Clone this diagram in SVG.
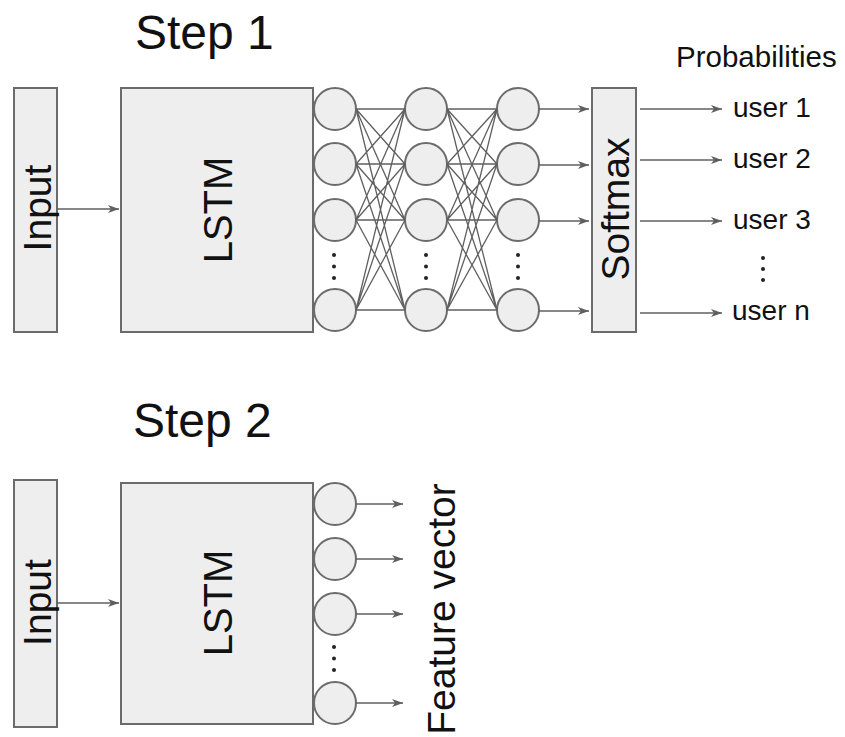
<svg xmlns="http://www.w3.org/2000/svg" width="845" height="737" viewBox="0 0 845 737">
<defs>
<style>
.box{fill:#eeeeee;stroke:#6b6b6b;stroke-width:2}
.nd{fill:#eeeeee;stroke:#6b6b6b;stroke-width:2}
.ln{stroke:#5f5f5f;stroke-width:1.3;fill:none}
.ar{stroke:#5f5f5f;stroke-width:1.6;fill:none;marker-end:url(#ah)}
.t{font-family:"Liberation Sans",Arial,sans-serif;fill:#111}
.dot{fill:#222}
</style>
<marker id="ah" markerUnits="userSpaceOnUse" markerWidth="12" markerHeight="10" viewBox="0 0 12 10" refX="11" refY="5" orient="auto">
<path d="M0,1 L11,5 L0,9 L3,5 Z" fill="#5f5f5f"/>
</marker>
</defs>
<rect width="845" height="737" fill="#ffffff"/>

<text class="t" x="135" y="49" font-size="48">Step 1</text>
<text class="t" x="133" y="437" font-size="48">Step 2</text>

<!-- Step 1 -->
<g id="input1">
<rect class="box" x="14" y="88" width="43" height="244"/>
<text class="t" font-size="39" text-anchor="middle" transform="translate(50.5,208) rotate(-90)">Input</text>
</g>
<g id="lstm1">
<rect class="box" x="121" y="88" width="192" height="244"/>
<text class="t" font-size="40" text-anchor="middle" transform="translate(232,210) rotate(-90)">LSTM</text>
</g>
<g id="layer1">
<circle class="nd" cx="335" cy="109" r="21"/>
<circle class="nd" cx="335" cy="164" r="21"/>
<circle class="nd" cx="335" cy="220" r="21"/>
<circle class="nd" cx="335" cy="310" r="21"/>
<circle class="dot" cx="334" cy="255" r="2"/>
<circle class="dot" cx="334" cy="266.5" r="2"/>
<circle class="dot" cx="334" cy="278" r="2"/>
</g>
<g id="layer2">
<circle class="nd" cx="426" cy="109" r="21"/>
<circle class="nd" cx="426" cy="164" r="21"/>
<circle class="nd" cx="426" cy="220" r="21"/>
<circle class="nd" cx="426" cy="310" r="21"/>
<circle class="dot" cx="426" cy="255" r="2"/>
<circle class="dot" cx="426" cy="266.5" r="2"/>
<circle class="dot" cx="426" cy="278" r="2"/>
</g>
<g id="layer3">
<circle class="nd" cx="518" cy="109" r="21"/>
<circle class="nd" cx="518" cy="164" r="21"/>
<circle class="nd" cx="518" cy="220" r="21"/>
<circle class="nd" cx="518" cy="310" r="21"/>
<circle class="dot" cx="518" cy="255" r="2"/>
<circle class="dot" cx="518" cy="266.5" r="2"/>
<circle class="dot" cx="518" cy="278" r="2"/>
</g>
<g id="softmax">
<rect class="box" x="592" y="88" width="44" height="244"/>
<text class="t" font-size="39" text-anchor="middle" transform="translate(629,209) rotate(-90)">Softmax</text>
</g>
<g id="outputs">
<text class="t" x="676" y="67" font-size="29.5">Probabilities</text>
<text class="t" x="733" y="117" font-size="28">user 1</text>
<text class="t" x="733" y="168" font-size="28">user 2</text>
<text class="t" x="733" y="229" font-size="28">user 3</text>
<text class="t" x="732" y="320" font-size="28">user n</text>
<circle class="dot" cx="763" cy="258" r="2"/>
<circle class="dot" cx="763" cy="269" r="2"/>
<circle class="dot" cx="763" cy="280" r="2"/>
</g>

<!-- Step 2 -->
<g id="input2">
<rect class="box" x="14" y="480" width="43" height="247"/>
<text class="t" font-size="39" text-anchor="middle" transform="translate(50.5,602.5) rotate(-90)">Input</text>
</g>
<g id="lstm2">
<rect class="box" x="121" y="483" width="192" height="241"/>
<text class="t" font-size="40" text-anchor="middle" transform="translate(232,603) rotate(-90)">LSTM</text>
</g>
<g id="features">
<circle class="nd" cx="335" cy="504" r="21"/>
<circle class="nd" cx="335" cy="559" r="21"/>
<circle class="nd" cx="335" cy="614" r="21"/>
<circle class="nd" cx="335" cy="703" r="21"/>
<circle class="dot" cx="334" cy="647" r="2"/>
<circle class="dot" cx="334" cy="658.5" r="2"/>
<circle class="dot" cx="334" cy="670" r="2"/>
<text class="t" font-size="39" text-anchor="middle" transform="translate(455,609) rotate(-90)">Feature vector</text>
</g>

<g id="connectors">
<line class="ar" x1="57" y1="209" x2="119" y2="209"/>
<line class="ar" x1="57" y1="603" x2="119" y2="603"/>
<!-- layer1 -> layer2 -->
<path class="ln" d="M356,109 L405,109 M356,109 L405,164 M356,109 L405,220 M356,109 L405,310
M356,164 L405,109 M356,164 L405,164 M356,164 L405,220 M356,164 L405,310
M356,220 L405,109 M356,220 L405,164 M356,220 L405,220 M356,220 L405,310
M356,310 L405,109 M356,310 L405,164 M356,310 L405,220 M356,310 L405,310"/>
<!-- layer2 -> layer3 -->
<path class="ln" d="M447,109 L497,109 M447,109 L497,164 M447,109 L497,220 M447,109 L497,310
M447,164 L497,109 M447,164 L497,164 M447,164 L497,220 M447,164 L497,310
M447,220 L497,109 M447,220 L497,164 M447,220 L497,220 M447,220 L497,310
M447,310 L497,109 M447,310 L497,164 M447,310 L497,220 M447,310 L497,310"/>
<line class="ar" x1="539" y1="109" x2="589" y2="109"/>
<line class="ar" x1="539" y1="165" x2="589" y2="165"/>
<line class="ar" x1="539" y1="221" x2="589" y2="221"/>
<line class="ar" x1="539" y1="311" x2="589" y2="311"/>
<line class="ar" x1="640" y1="109" x2="722" y2="109"/>
<line class="ar" x1="640" y1="160" x2="722" y2="160"/>
<line class="ar" x1="640" y1="221" x2="722" y2="221"/>
<line class="ar" x1="640" y1="313" x2="722" y2="313"/>
<line class="ar" x1="356" y1="504" x2="403" y2="504"/>
<line class="ar" x1="356" y1="559" x2="403" y2="559"/>
<line class="ar" x1="356" y1="614" x2="403" y2="614"/>
<line class="ar" x1="356" y1="703" x2="403" y2="703"/>
</g>
</svg>
